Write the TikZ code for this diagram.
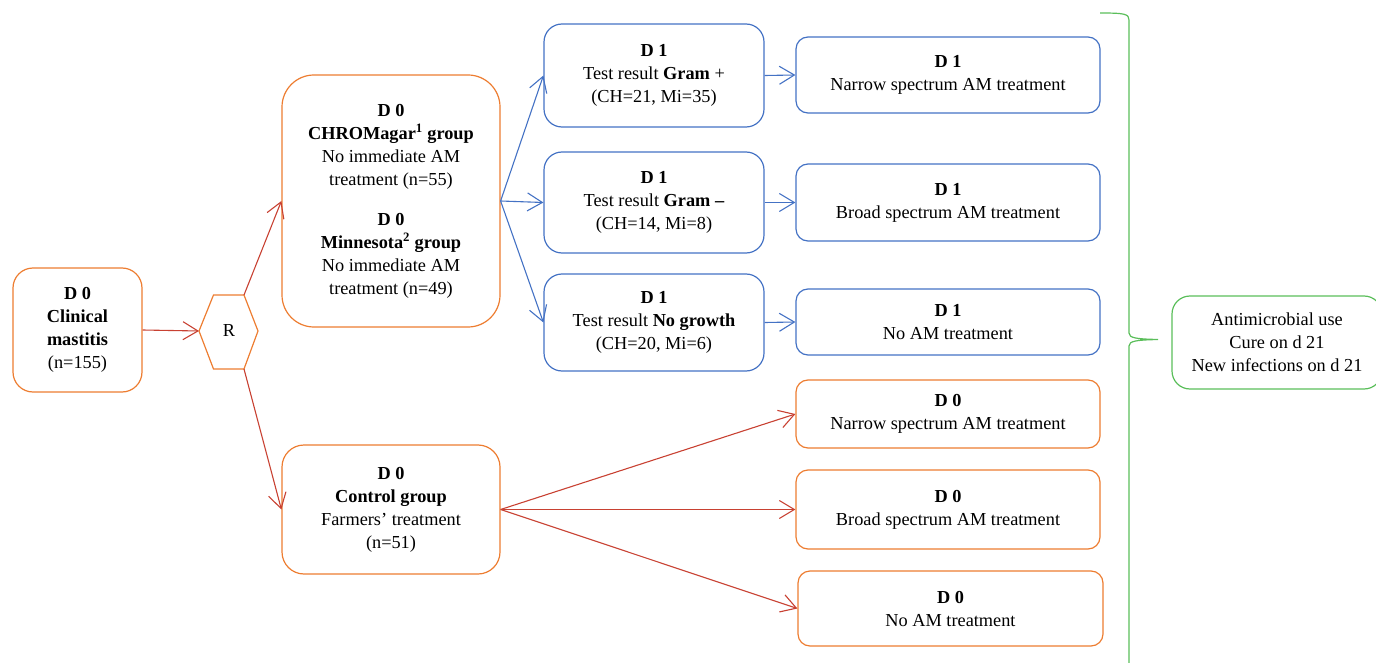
\documentclass[tikz,border=0pt]{standalone}
\usepackage{fontspec}
\setmainfont{Liberation Serif}
\usetikzlibrary{arrows.meta}
\definecolor{boxorange}{RGB}{237,125,49}
\definecolor{boxblue}{RGB}{68,114,196}
\definecolor{boxgreen}{RGB}{90,190,90}
\definecolor{arrred}{RGB}{200,65,50}
\begin{document}
\begin{tikzpicture}[x=1pt,y=-1pt,
  font=\fontsize{18.3}{23}\selectfont,
  box/.style={draw, line width=1.2pt, align=center, inner sep=0pt, rounded corners=#1},
  box/.default=14pt,
  obox/.style={box=#1, draw=boxorange},
  obox/.default=14pt,
  bbox/.style={box=#1, draw=boxblue},
  bbox/.default=14pt,
  conn/.style={line width=1.1pt, -{Straight Barb[length=15pt,width=18pt,line width=1.1pt]}},
  rarr/.style={conn, draw=arrred},
  barr/.style={conn, draw=boxblue}]
\useasboundingbox (0,0) rectangle (1376,663);

% left box
\node[obox=20pt, minimum width=129pt, minimum height=124pt] (clin) at (77.5,330)
  {\textbf{D 0}\\\textbf{Clinical}\\\textbf{mastitis}\\(n=155)};

% hexagon
\coordinate (hl) at (199,331);
\coordinate (hul) at (213.5,295);
\coordinate (hur) at (244,295);
\coordinate (hr) at (258,331);
\coordinate (hlr) at (244,369);
\coordinate (hll) at (213.5,369);
\draw[boxorange, line width=1.2pt] (hl) -- (hul) -- (hur) -- (hr) -- (hlr) -- (hll) -- cycle;
\node (R) at (229,331) {R};

% middle boxes
\node[obox=32pt, minimum width=218pt, minimum height=252pt] (chrom) at (391,201)
  {\textbf{D 0}\\\textbf{CHROMagar\textsuperscript{1} group}\\No immediate AM\\treatment (n=55)\\[17pt]
   \textbf{D 0}\\\textbf{Minnesota\textsuperscript{2} group}\\No immediate AM\\treatment (n=49)};
\node[obox=22pt, minimum width=218pt, minimum height=129pt] (ctrl) at (391,509.5)
  {\textbf{D 0}\\\textbf{Control group}\\Farmers’ treatment\\(n=51)};

% D1 test boxes
\node[bbox=18pt, minimum width=220pt, minimum height=103pt] (g1) at (654,75.5)
  {\textbf{D 1}\\Test result \textbf{Gram} +\\(CH=21, Mi=35)};
\node[bbox=18pt, minimum width=220pt, minimum height=101pt] (g2) at (654,202.5)
  {\textbf{D 1}\\Test result \textbf{Gram –}\\(CH=14, Mi=8)};
\node[bbox=18pt, minimum width=220pt, minimum height=97pt] (g3) at (654,322.5)
  {\textbf{D 1}\\Test result \textbf{No growth}\\(CH=20, Mi=6)};

% right boxes
\node[bbox=12pt, minimum width=304pt, minimum height=76pt] (r1) at (948,75)
  {\textbf{D 1}\\Narrow spectrum AM treatment};
\node[bbox=12pt, minimum width=304pt, minimum height=77pt] (r2) at (948,202.5)
  {\textbf{D 1}\\Broad spectrum AM treatment};
\node[bbox=12pt, minimum width=304pt, minimum height=66pt] (r3) at (948,322)
  {\textbf{D 1}\\No AM treatment};
\node[obox=12pt, minimum width=304pt, minimum height=68pt] (o1) at (948,414)
  {\textbf{D 0}\\Narrow spectrum AM treatment};
\node[obox=12pt, minimum width=304pt, minimum height=79pt] (o2) at (948,509.5)
  {\textbf{D 0}\\Broad spectrum AM treatment};
\node[obox=12pt, minimum width=305pt, minimum height=75pt] (o3) at (950.5,608.5)
  {\textbf{D 0}\\No AM treatment};

% outcome box
\node[box=18pt, draw=boxgreen, minimum width=210pt, minimum height=93pt] (out) at (1277,342.5)
  {Antimicrobial use\\Cure on d 21\\New infections on d 21};

% brace
\draw[boxgreen, line width=1.2pt] (1100,13) .. controls (1125,13) and (1129,14) .. (1129,20)
  -- (1129,333) .. controls (1129,338) and (1136,339) .. (1158,339.5)
  .. controls (1136,340) and (1129,341) .. (1129,346) -- (1129,663);

% connectors
\draw[rarr] (clin.east) -- (hl);
\draw[rarr] (hur) -- (chrom.west);
\draw[rarr] (hlr) -- (ctrl.west);
\draw[barr] (chrom.east) -- (g1.west);
\draw[barr] (chrom.east) -- (g2.west);
\draw[barr] (chrom.east) -- (g3.west);
\draw[barr] (g1.east) -- (r1.west);
\draw[barr] (g2.east) -- (r2.west);
\draw[barr] (g3.east) -- (r3.west);
\draw[rarr] (ctrl.east) -- (o1.west);
\draw[rarr] (ctrl.east) -- (o2.west);
\draw[rarr] (ctrl.east) -- (o3.west);
\end{tikzpicture}
\end{document}
